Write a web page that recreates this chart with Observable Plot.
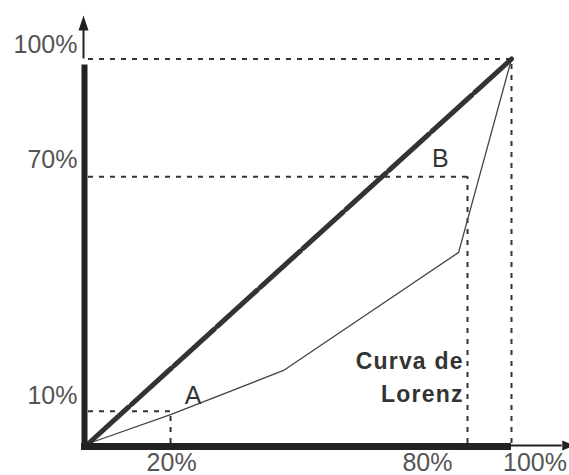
<!DOCTYPE html>
<html>
<head>
<meta charset="utf-8">
<script src="https://cdn.jsdelivr.net/npm/d3@7"></script>
<script src="https://cdn.jsdelivr.net/npm/@observablehq/plot@0.6"></script>
<style>
  html, body { margin: 0; padding: 0; background: #fff; }
  .lorenz-label { letter-spacing: 1.2px; }
</style>
</head>
<body>
<div id="chart"></div>
<script>
// Lorenz curve (cumulative % population vs cumulative % income)
const lorenzX = [0, 19.4, 46.1, 87.5, 100];
const lorenzY = [0, 7.5, 19.0, 49.7, 100];
// Line of perfect equality
const equalityX = [0, 100];
const equalityY = [0, 100];
// Dotted guide lines (as drawn)
const guideX = [19.4, 89.6, 100];
const guideY = [8.4, 69.4, 100];
// Tick labels
const xTicks = [20, 80, 100];
const yTicks = [10, 70, 100];
const xTickLabels = ["20%", "80%", "100%"];
const yTickLabels = ["10%", "70%", "100%"];

const lorenz = lorenzX.map((x, i) => ({x, y: lorenzY[i]}));
const equality = equalityX.map((x, i) => ({x, y: equalityY[i]}));
const guides = guideX.map((x, i) => ({x, y: guideY[i]}));

const font = "Liberation Sans, Arial, sans-serif";
const xLabelDx = [-1.5, 0.5, 23.5];
const yLabelDy = [-1.5, -6, -6.5];

const arrowUp = { draw(ctx) { ctx.moveTo(0, -15); ctx.lineTo(5, 0); ctx.lineTo(-5, 0); ctx.closePath(); } };
const arrowRight = { draw(ctx) { ctx.moveTo(12, 0); ctx.lineTo(0, -5); ctx.lineTo(0, 5); ctx.closePath(); } };

const chart = Plot.plot({
  width: 569,
  height: 475,
  marginTop: 0, marginRight: 0, marginBottom: 0, marginLeft: 0,
  x: {domain: [0, 100], range: [88, 511], axis: null},
  y: {domain: [0, 100], range: [443, 58.5], axis: null},
  style: {background: "#fff", fontFamily: font},
  marks: [
    // dotted guides
    Plot.ruleY(guides, {y: "y", x1: 0, x2: "x", stroke: "#333", strokeWidth: 2, strokeDasharray: "5,6"}),
    Plot.ruleX(guides, {x: "x", y1: 0, y2: "y", stroke: "#333", strokeWidth: 2, strokeDasharray: "5,6"}),
    // Lorenz curve
    Plot.line(lorenz, {x: "x", y: "y", stroke: "#444", strokeWidth: 1.3}),
    // equality line
    Plot.line(equality, {x: "x", y: "y", stroke: "#333", strokeWidth: 5, strokeDasharray: "54,4"}),
    // axes
    Plot.ruleX([0], {y1: 100, y2: 107.4, stroke: "#222", strokeWidth: 2, dx: -5}),
    Plot.ruleY([0], {x1: 100, x2: 112, stroke: "#222", strokeWidth: 2, dy: 2}),
    Plot.ruleX([0], {y1: 0, y2: 100, stroke: "#222", strokeWidth: 6, dx: -4, insetBottom: -6}),
    Plot.ruleY([0], {x1: 0, x2: 100, stroke: "#222", strokeWidth: 7, dy: 3, insetLeft: -7}),
    Plot.dot([0], {x: 0, y: 107.4, r: 5, symbol: arrowUp, fill: "#222", stroke: "none", dx: -5}),
    Plot.dot([0], {x: 112, y: 0, r: 5, symbol: arrowRight, fill: "#222", stroke: "none", dy: 2}),
    // tick labels
    ...xTicks.map((t, i) => Plot.text([t], {
      x: d => d, y: 0, text: () => xTickLabels[i], dx: xLabelDx[i], dy: 27,
      lineAnchor: "bottom", textAnchor: "middle", fontSize: 25, fill: "#555", fontFamily: font
    })),
    ...yTicks.map((t, i) => Plot.text([t], {
      x: 0, y: d => d, text: () => yTickLabels[i], dx: -11, dy: yLabelDy[i],
      lineAnchor: "bottom", textAnchor: "end", fontSize: 25, fill: "#555", fontFamily: font
    })),
    // annotations
    Plot.text(["A"], {x: 24.7, y: 10.4, text: d => d, lineAnchor: "bottom", textAnchor: "middle", fontSize: 25, fill: "#333", fontFamily: font}),
    Plot.text(["B"], {x: 83.2, y: 71.8, text: d => d, lineAnchor: "bottom", textAnchor: "middle", fontSize: 25, fill: "#333", fontFamily: font}),
    Plot.text(["Curva de\nLorenz"], {x: 88.7, y: 10.7, text: d => d, lineAnchor: "bottom", textAnchor: "end", fontSize: 23, lineHeight: 1.45, fontWeight: "bold", fill: "#333", fontFamily: font, className: "lorenz-label"})
  ]
});
document.getElementById("chart").appendChild(chart);
</script>
</body>
</html>
